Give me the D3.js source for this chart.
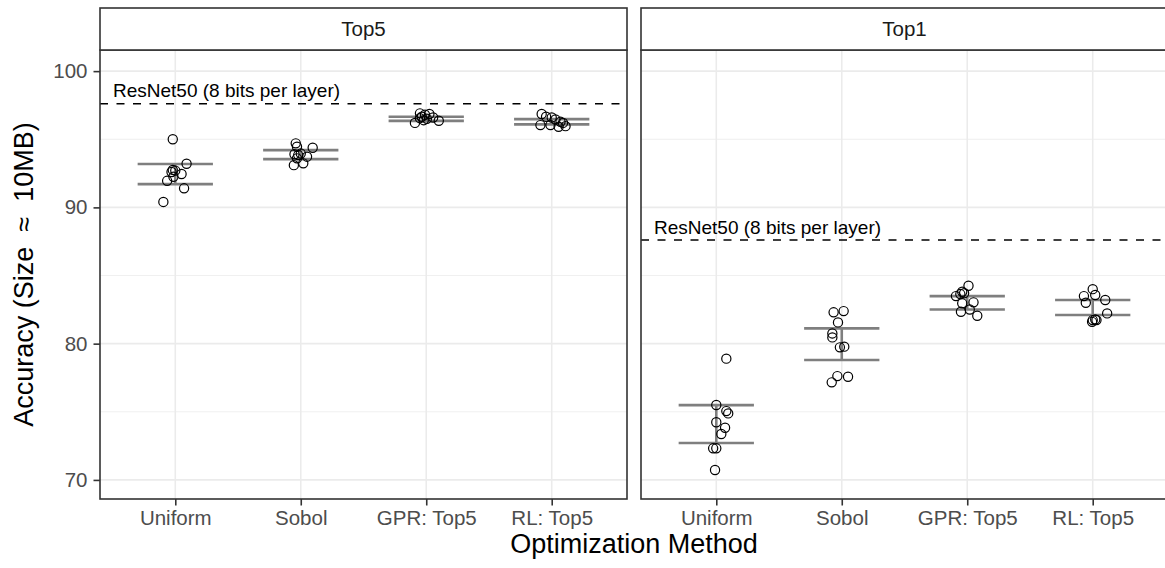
<!DOCTYPE html>
<html><head><meta charset="utf-8">
<script src="https://cdn.jsdelivr.net/npm/d3@7"></script>
<style>body{margin:0;background:#fff}svg text{font-family:"Liberation Sans",Arial,sans-serif}</style>
</head><body><svg id="c" width="1165" height="568"></svg>
<script>
const panels = ["Top5","Top1"];
const methods = ["Uniform","Sobol","GPR: Top5","RL: Top5"];
const yTicks = [70,80,90,100];
const yMinor = [75,85,95];
const baseline = {Top5: 97.6, Top1: 87.6};
const baselineLabel = "ResNet50 (8 bits per layer)";
// accuracy values per panel / method
const top5Uniform = [95.0,93.2,92.75,92.7,92.6,92.45,92.25,91.95,91.4,90.4];
const top5Sobol   = [94.7,94.45,94.38,93.95,93.9,93.84,93.72,93.6,93.23,93.1];
const top5GPR     = [96.9,96.85,96.8,96.65,96.6,96.55,96.5,96.4,96.36,96.2];
const top5RL      = [96.85,96.65,96.6,96.45,96.28,96.2,96.04,96.04,95.96,95.92];
const top1Uniform = [78.9,75.5,75.05,74.88,74.23,73.83,73.37,72.32,72.32,70.73];
const top1Sobol   = [82.3,82.39,81.56,80.75,80.46,79.73,79.78,77.16,77.62,77.57];
const top1GPR     = [84.25,83.81,83.7,83.64,83.49,83.03,82.96,82.51,82.34,82.05];
const top1RL      = [84.0,83.57,83.49,83.2,83.0,82.22,81.77,81.73,81.73,81.6];
// horizontal jitter (fraction of category step)
const top5UniformJit = [-0.02,0.09,-0.02,0.0,-0.03,0.05,-0.015,-0.065,0.07,-0.095];
const top5SobolJit   = [-0.04,-0.03,0.095,0.0,-0.05,-0.02,0.05,-0.03,0.02,-0.055];
const top5GPRJit     = [-0.05,0.025,-0.01,-0.035,0.055,-0.05,0.005,-0.02,0.1,-0.09];
const top5RLJit      = [-0.08,-0.045,0.0,0.03,0.07,0.09,-0.09,-0.01,0.11,0.055];
const top1UniformJit = [0.08,0.0,0.08,0.095,0.0,0.07,0.04,-0.025,0.0,-0.01];
const top1SobolJit   = [-0.065,0.015,-0.03,-0.075,-0.075,-0.015,0.02,-0.08,-0.035,0.05];
const top1GPRJit     = [0.01,-0.04,-0.025,-0.055,-0.09,0.05,-0.04,0.02,-0.05,0.08];
const top1RLJit      = [0.0,0.02,-0.07,0.1,-0.055,0.115,0.02,0.0,0.03,-0.005];
// error bar limits
const top5Lower = [91.71,93.54,96.35,96.09];
const top5Upper = [93.18,94.2,96.65,96.48];
const top1Lower = [72.71,78.8,82.51,82.1];
const top1Upper = [75.49,81.12,83.49,83.2];

const values = {Top5:[top5Uniform,top5Sobol,top5GPR,top5RL], Top1:[top1Uniform,top1Sobol,top1GPR,top1RL]};
const jitters = {Top5:[top5UniformJit,top5SobolJit,top5GPRJit,top5RLJit], Top1:[top1UniformJit,top1SobolJit,top1GPRJit,top1RLJit]};
const lowers = {Top5:top5Lower, Top1:top1Lower};
const uppers = {Top5:top5Upper, Top1:top1Upper};

const svg = d3.select("#c");
const panelW = 527, stripTop = 8, panelTop = 50, panelBottom = 499;
const panelX = {Top5:100, Top1:641};
const y = d3.scaleLinear().domain([68.6,101.55]).range([panelBottom,panelTop]);
const border = "#333333", grid = "#EBEBEB";
const FONT = "Liberation Sans, Arial, sans-serif";

panels.forEach((p,pi) => {
  const x0 = panelX[p];
  const x = d3.scalePoint().domain(methods).range([x0, x0+panelW]).padding(0.6);
  const step = x.step();
  const g = svg.append("g");
  // grid
  g.selectAll(".mi").data(yMinor).join("line")
    .attr("x1",x0).attr("x2",x0+panelW).attr("y1",d=>y(d)).attr("y2",d=>y(d))
    .attr("stroke",grid).attr("stroke-width",0.8);
  g.selectAll(".ma").data(yTicks).join("line")
    .attr("x1",x0).attr("x2",x0+panelW).attr("y1",d=>y(d)).attr("y2",d=>y(d))
    .attr("stroke",grid).attr("stroke-width",1.6);
  g.selectAll(".vx").data(methods).join("line")
    .attr("x1",d=>x(d)).attr("x2",d=>x(d)).attr("y1",panelTop).attr("y2",panelBottom)
    .attr("stroke",grid).attr("stroke-width",1.6);
  // baseline
  g.append("line").attr("x1",x0).attr("x2",x0+panelW)
    .attr("y1",y(baseline[p])).attr("y2",y(baseline[p]))
    .attr("stroke","#000").attr("stroke-width",1.5).attr("stroke-dasharray","8,8.5");
  g.append("text").attr("x",x0+13).attr("y",y(baseline[p])-6.5)
    .attr("font-size",19).attr("fill","#000").text(baselineLabel);
  // error bars
  const eb = g.selectAll(".eb").data(methods.map((m,i)=>({m,lo:lowers[p][i],hi:uppers[p][i]}))).join("g");
  const hw = step*0.3;
  const ebStyle = s => s.attr("stroke","#7F7F7F").attr("stroke-width",2.6);
  eb.append("line").attr("x1",d=>x(d.m)).attr("x2",d=>x(d.m)).attr("y1",d=>y(d.lo)).attr("y2",d=>y(d.hi)).call(ebStyle);
  eb.append("line").attr("x1",d=>x(d.m)-hw).attr("x2",d=>x(d.m)+hw).attr("y1",d=>y(d.lo)).attr("y2",d=>y(d.lo)).call(ebStyle);
  eb.append("line").attr("x1",d=>x(d.m)-hw).attr("x2",d=>x(d.m)+hw).attr("y1",d=>y(d.hi)).attr("y2",d=>y(d.hi)).call(ebStyle);
  // points
  const pts = [];
  methods.forEach((m,i)=>values[p][i].forEach((v,j)=>pts.push({m,v,jit:jitters[p][i][j]})));
  g.selectAll(".pt").data(pts).join("circle")
    .attr("cx",d=>x(d.m)+d.jit*step).attr("cy",d=>y(d.v)).attr("r",4.6)
    .attr("fill","none").attr("stroke","#000").attr("stroke-width",1.2);
  // panel border
  g.append("rect").attr("x",x0).attr("y",panelTop).attr("width",panelW).attr("height",panelBottom-panelTop)
    .attr("fill","none").attr("stroke",border).attr("stroke-width",1.6);
  // strip
  g.append("rect").attr("x",x0).attr("y",stripTop).attr("width",panelW).attr("height",panelTop-stripTop)
    .attr("fill","#fff").attr("stroke",border).attr("stroke-width",1.6);
  g.append("text").attr("x",x0+panelW/2).attr("y",(stripTop+panelTop)/2).attr("dy","0.35em")
    .attr("text-anchor","middle").attr("font-size",20.5).attr("fill","#1A1A1A").text(p);
  // x axis
  const xa = d3.axisBottom(x).tickSize(6.5).tickPadding(5);
  const gx = g.append("g").attr("transform",`translate(0,${panelBottom})`).call(xa);
  gx.select(".domain").remove();
  gx.selectAll(".tick line").attr("stroke",border).attr("stroke-width",1.6);
  gx.selectAll(".tick text").attr("font-size",20.5).attr("fill","#4D4D4D").attr("font-family",FONT);
  if (pi===0) {
    const ya = d3.axisLeft(y).tickValues(yTicks).tickSize(6.5).tickPadding(6);
    const gy = g.append("g").attr("transform",`translate(${x0},0)`).call(ya);
    gy.select(".domain").remove();
    gy.selectAll(".tick line").attr("stroke",border).attr("stroke-width",1.6);
    gy.selectAll(".tick text").attr("font-size",20.5).attr("fill","#4D4D4D").attr("font-family",FONT);
  }
});
svg.append("text").attr("x",(100+641+panelW)/2).attr("y",553).attr("text-anchor","middle")
  .attr("font-size",27).attr("fill","#000").text("Optimization Method");
svg.append("text").attr("transform",`translate(33,${(panelTop+panelBottom)/2}) rotate(-90)`)
  .attr("text-anchor","middle").attr("font-size",27).attr("fill","#000")
  .attr("xml:space","preserve").style("white-space","pre").text("Accuracy (Size  \u2248  10MB)");
</script></body></html>
